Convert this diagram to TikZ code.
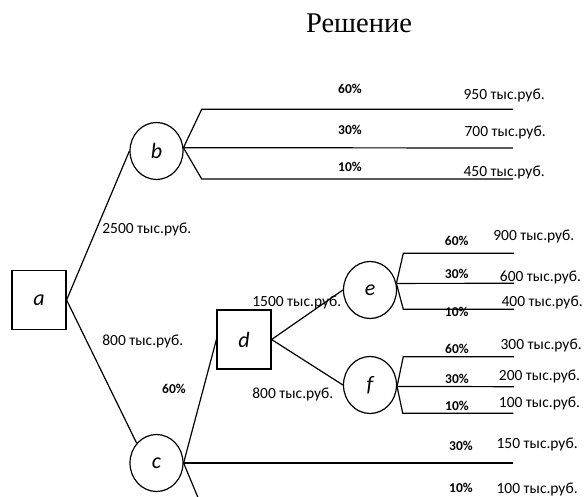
\documentclass[tikz,border=0pt]{standalone}
\usepackage{fontspec}
\setmainfont{Carlito}
\newfontfamily\titlefont{Liberation Serif}
\usetikzlibrary{shapes.geometric}

\begin{document}
\begin{tikzpicture}[x=1pt, y=-1pt, line width=1.2pt,
  decision/.style={draw, rectangle, minimum width=54pt, minimum height=59pt,
    inner sep=0pt, font=\fontsize{22}{24}\selectfont\itshape},
  chance/.style={draw, ellipse, minimum width=53pt, minimum height=57pt,
    inner sep=0pt, font=\fontsize{22}{24}\selectfont\itshape},
  val/.style={anchor=base west, inner sep=0pt, font=\fontsize{15.5}{18}\selectfont},
  pct/.style={anchor=base, inner sep=0pt, font=\fontsize{13.5}{16}\selectfont\bfseries},
  titletext/.style={anchor=base, inner sep=0pt, font=\titlefont\fontsize{28.5}{32}\selectfont}]

\useasboundingbox (0,0) rectangle (584,497);
\clip (0,0) rectangle (584,497);

% heading
\node[titletext] (title) at (359,33) {Решение};

% decision and chance nodes
\node[decision] (a) at (39,300) {a};
\node[chance]   (b) at (156.5,151) {b};
\node[chance]   (c) at (156.5,463) {c};
\node[decision] (d) at (244,339.5) {d};
\node[chance]   (e) at (370,290) {e};
\node[chance]   (f) at (370,385) {f};

% main connectors
\draw (a.east) -- (b.west);
\draw (a.east) -- (c.135);
\draw (c.east) -- (d.west);
\draw (d.east) -- (e.west);
\draw (d.east) -- (f.west);

% outcome branch ends
\coordinate (b1k) at (201.7,109.3); \coordinate (b1) at (513,109.3);
\coordinate (b2)  at (513,148);
\coordinate (b3k) at (201.7,179);   \coordinate (b3) at (513,179);
\coordinate (e1k) at (403.3,253.3); \coordinate (e1) at (514,253.3);
\coordinate (e2)  at (514,283.3);
\coordinate (e3k) at (403.3,309.3); \coordinate (e3) at (514,309.3);
\coordinate (f1k) at (403.3,356.7); \coordinate (f1) at (514,356.7);
\coordinate (f2)  at (514,386.7);
\coordinate (f3k) at (402.7,413.3); \coordinate (f3) at (513.3,413.3);
\coordinate (c2)  at (513,463);
\coordinate (c3k) at (199,500);     \coordinate (c3) at (513,500);

% branches of b
\draw (b.7) -- (b1k) -- (b1);
\draw (b.7) -- (b2);
\draw (b.7) -- (b3k) -- (b3);
% branches of e
\draw (e.14) -- (e1k) -- (e1);
\draw (e.14) -- (e2);
\draw (e.14) -- (e3k) -- (e3);
% branches of f
\draw (f.-3) -- (f1k) -- (f1);
\draw (f.-3) -- (f2);
\draw (f.-3) -- (f3k) -- (f3);
% branches of c
\draw (c.east) -- (c2);
\draw (c.east) -- (c3k) -- (c3);

% connector labels
\node[val] (l2500) at (101.7,234) {2500 тыс.руб.};
\node[val] (l800a) at (101.7,345) {800 тыс.руб.};
\node[pct] (pcd)   at (174,393) {60\%};
\node[val] (l1500) at (251.7,306) {1500 тыс.руб.};
\node[val] (l800d) at (251.7,398) {800 тыс.руб.};

% outcomes of b
\node[pct] (pb1) at (350,94) {60\%};
\node[pct] (pb2) at (350,135) {30\%};
\node[pct] (pb3) at (350,172) {10\%};
\node[val] (vb1) at (463,100) {950 тыс.руб.};
\node[val] (vb2) at (464,136.5) {700 тыс.руб.};
\node[val] (vb3) at (463,176.5) {450 тыс.руб.};

% outcomes of e
\node[pct] (pe1) at (456.7,246) {60\%};
\node[pct] (pe2) at (456.7,279) {30\%};
\node[pct] (pe3) at (456.7,316.5) {10\%};
\node[val] (ve1) at (492.7,240.5) {900 тыс.руб.};
\node[val] (ve2) at (499.3,281.5) {600 тыс.руб.};
\node[val] (ve3) at (501,306.5) {400 тыс.руб.};

% outcomes of f
\node[pct] (pf1) at (457,353) {60\%};
\node[pct] (pf2) at (457,383) {30\%};
\node[pct] (pf3) at (457,410) {10\%};
\node[val] (vf1) at (500,349) {300 тыс.руб.};
\node[val] (vf2) at (498.3,380.5) {200 тыс.руб.};
\node[val] (vf3) at (498.3,407) {100 тыс.руб.};

% outcomes of c
\node[pct] (pc2) at (461,450) {30\%};
\node[pct] (pc3) at (461,492.5) {10\%};
\node[val] (vc2) at (496,448) {150 тыс.руб.};
\node[val] (vc3) at (496,493) {100 тыс.руб.};

\end{tikzpicture}
\end{document}
